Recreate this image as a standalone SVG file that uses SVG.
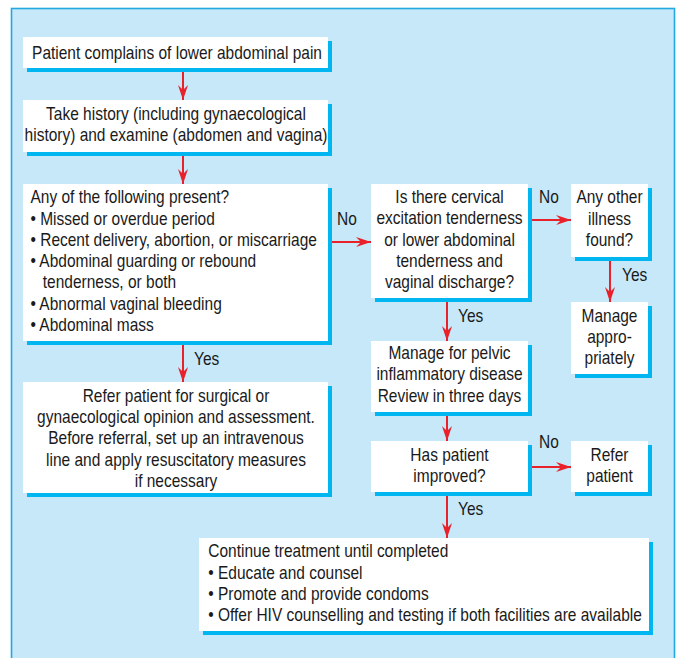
<svg xmlns="http://www.w3.org/2000/svg" width="679" height="658" viewBox="0 0 679 658">
<defs>
<style>
.bg{fill:#c6e8f9;stroke:#22a8e2;stroke-width:1.6}
.sh{fill:#00b6f1}
.bx{fill:#ffffff}
text{font-family:"Liberation Sans",Arial,sans-serif;font-size:17.6px;fill:#1a1a1a}
.c{text-anchor:middle}
.ln{stroke:#e8212b;stroke-width:2;fill:none;marker-end:url(#ah)}
</style>
<marker id="ah" markerUnits="userSpaceOnUse" markerWidth="18" markerHeight="12" viewBox="-16 -6 17 12" refX="0" refY="0" orient="auto">
<path d="M0,0 L-15,-5 L-10,0 L-15,5 Z" fill="#e8212b"/>
</marker>
</defs>
<rect x="0" y="0" width="679" height="658" fill="#ffffff"/>
<rect class="bg" x="11.5" y="8.5" width="663" height="670"/>

<g id="connectors">
<line class="ln" x1="183" y1="68" x2="183" y2="100"/>
<line class="ln" x1="183" y1="152" x2="183" y2="184"/>
<line class="ln" x1="183" y1="341" x2="183" y2="382"/>
<line class="ln" x1="328" y1="242" x2="371" y2="242"/>
<line class="ln" x1="528" y1="220" x2="571" y2="220"/>
<line class="ln" x1="610" y1="257" x2="610" y2="302"/>
<line class="ln" x1="447" y1="298" x2="447" y2="341"/>
<line class="ln" x1="447" y1="412" x2="447" y2="441"/>
<line class="ln" x1="528" y1="467" x2="571" y2="467"/>
<line class="ln" x1="447" y1="492" x2="447" y2="538"/>
<g transform="translate(194 0) scale(0.88 1)"><text x="0" y="365">Yes</text></g>
<g transform="translate(337 0) scale(0.88 1)"><text x="0" y="225">No</text></g>
<g transform="translate(539 0) scale(0.88 1)"><text x="0" y="203">No</text></g>
<g transform="translate(622 0) scale(0.88 1)"><text x="0" y="281">Yes</text></g>
<g transform="translate(458 0) scale(0.88 1)"><text x="0" y="322">Yes</text></g>
<g transform="translate(539 0) scale(0.88 1)"><text x="0" y="448">No</text></g>
<g transform="translate(458 0) scale(0.88 1)"><text x="0" y="515">Yes</text></g>
</g>

<g id="n1">
<rect class="sh" x="27" y="41" width="305" height="31"/>
<rect class="bx" x="23" y="37" width="305" height="31"/>
<g transform="translate(177 0) scale(0.88 1)"><text class="c" x="0" y="59">Patient complains of lower abdominal pain</text></g>
</g>

<g id="n2">
<rect class="sh" x="27" y="104" width="305" height="52"/>
<rect class="bx" x="23" y="100" width="305" height="52"/>
<g transform="translate(176 0) scale(0.88 1)">
<text class="c" x="0" y="120">Take history (including gynaecological</text>
<text class="c" x="0" y="141.5">history) and examine (abdomen and vagina)</text>
</g>
</g>

<g id="n3">
<rect class="sh" x="27" y="188" width="305" height="157"/>
<rect class="bx" x="23" y="184" width="305" height="157"/>
<g transform="translate(30.5 0) scale(0.88 1)">
<text x="0" y="203.3">Any of the following present?</text>
<text x="0" y="224.6">• Missed or overdue period</text>
<text x="0" y="245.9">• Recent delivery, abortion, or miscarriage</text>
<text x="0" y="267.2">• Abdominal guarding or rebound</text>
<text x="14" y="288.5">tenderness, or both</text>
<text x="0" y="309.8">• Abnormal vaginal bleeding</text>
<text x="0" y="331.1">• Abdominal mass</text>
</g>
</g>

<g id="n4">
<rect class="sh" x="27" y="386" width="305" height="111"/>
<rect class="bx" x="23" y="382" width="305" height="111"/>
<g transform="translate(176 0) scale(0.88 1)">
<text class="c" x="0" y="402">Refer patient for surgical or</text>
<text class="c" x="0" y="423.2">gynaecological opinion and assessment.</text>
<text class="c" x="0" y="444.4">Before referral, set up an intravenous</text>
<text class="c" x="0" y="465.6">line and apply resuscitatory measures</text>
<text class="c" x="0" y="486.8">if necessary</text>
</g>
</g>

<g id="n5">
<rect class="sh" x="375" y="188" width="157" height="114"/>
<rect class="bx" x="371" y="184" width="157" height="114"/>
<g transform="translate(449.5 0) scale(0.88 1)">
<text class="c" x="0" y="203.3">Is there cervical</text>
<text class="c" x="0" y="224.5">excitation tenderness</text>
<text class="c" x="0" y="245.7">or lower abdominal</text>
<text class="c" x="0" y="266.9">tenderness and</text>
<text class="c" x="0" y="288.1">vaginal discharge?</text>
</g>
</g>

<g id="n6">
<rect class="sh" x="575" y="188" width="77" height="73"/>
<rect class="bx" x="571" y="184" width="77" height="73"/>
<g transform="translate(609.5 0) scale(0.88 1)">
<text class="c" x="0" y="203.3">Any other</text>
<text class="c" x="0" y="224.6">illness</text>
<text class="c" x="0" y="245.9">found?</text>
</g>
</g>

<g id="n7">
<rect class="sh" x="575" y="306" width="77" height="72"/>
<rect class="bx" x="571" y="302" width="77" height="72"/>
<g transform="translate(609.5 0) scale(0.88 1)">
<text class="c" x="0" y="321.7">Manage</text>
<text class="c" x="0" y="343">appro-</text>
<text class="c" x="0" y="364.3">priately</text>
</g>
</g>

<g id="n8">
<rect class="sh" x="375" y="345" width="157" height="71"/>
<rect class="bx" x="371" y="341" width="157" height="71"/>
<g transform="translate(449.5 0) scale(0.88 1)">
<text class="c" x="0" y="359">Manage for pelvic</text>
<text class="c" x="0" y="380.3">inflammatory disease</text>
<text class="c" x="0" y="401.6">Review in three days</text>
</g>
</g>

<g id="n9">
<rect class="sh" x="375" y="445" width="157" height="51"/>
<rect class="bx" x="371" y="441" width="157" height="51"/>
<g transform="translate(449.5 0) scale(0.88 1)">
<text class="c" x="0" y="461">Has patient</text>
<text class="c" x="0" y="482.5">improved?</text>
</g>
</g>

<g id="n10">
<rect class="sh" x="575" y="445" width="77" height="51"/>
<rect class="bx" x="571" y="441" width="77" height="51"/>
<g transform="translate(609.5 0) scale(0.88 1)">
<text class="c" x="0" y="461">Refer</text>
<text class="c" x="0" y="482.5">patient</text>
</g>
</g>

<g id="n11">
<rect class="sh" x="203" y="542" width="450" height="93"/>
<rect class="bx" x="199" y="538" width="450" height="93"/>
<g transform="translate(208.3 0) scale(0.88 1)">
<text x="0" y="557.3">Continue treatment until completed</text>
<text x="0" y="578.6">• Educate and counsel</text>
<text x="0" y="599.9">• Promote and provide condoms</text>
<text x="0" y="621.2">• Offer HIV counselling and testing if both facilities are available</text>
</g>
</g>
</svg>
